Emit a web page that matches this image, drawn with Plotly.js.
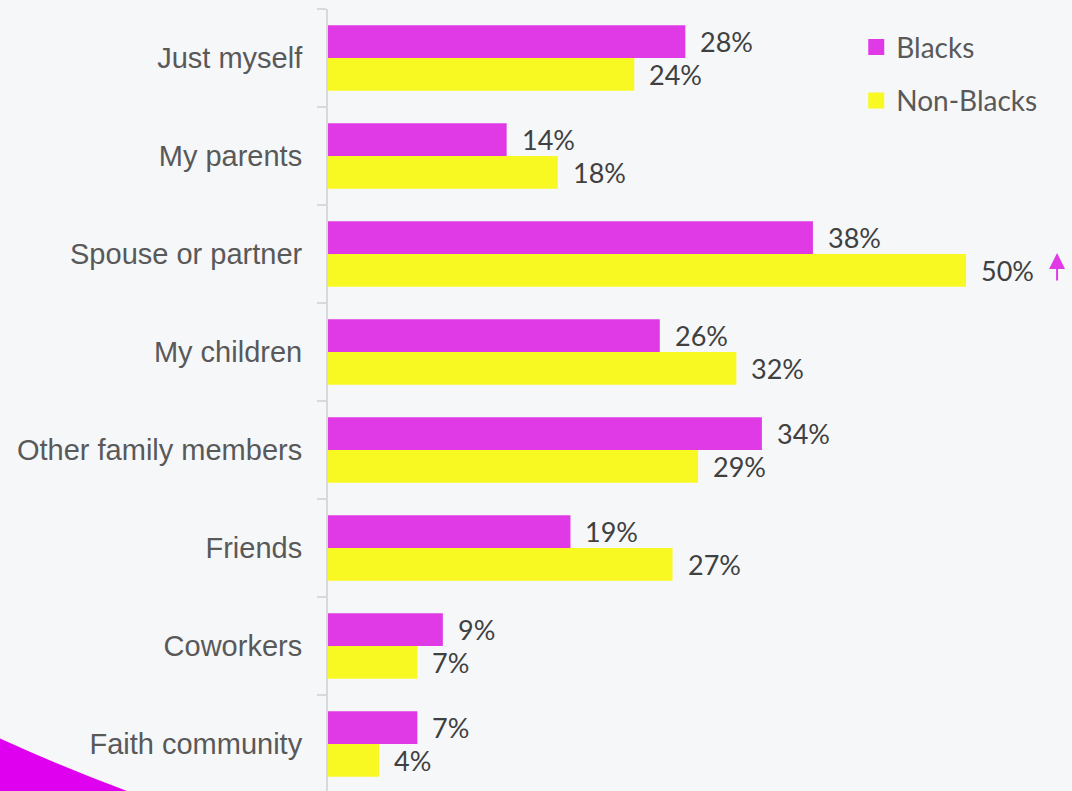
<!DOCTYPE html>
<html>
<head>
<meta charset="utf-8">
<script src="https://cdn.plot.ly/plotly-3.0.1.min.js"></script>
<style>
  html, body { margin: 0; padding: 0; background: #F6F7F9; }
  #chart { width: 1072px; height: 791px; }
</style>
</head>
<body>
<div id="chart"></div>
<script>
// ---- data ----
const categories = ["Just myself", "My parents", "Spouse or partner", "My children",
                    "Other family members", "Friends", "Coworkers", "Faith community"];
const blacks    = [28, 14, 38, 26, 34, 19, 9, 7];
const nonBlacks = [24, 18, 50, 32, 29, 27, 7, 4];
const seriesNames = ["Blacks", "Non-Blacks"];
const highlightCategory = "Spouse or partner";   // significance arrow next to Non-Blacks value

// ---- style ----
const MAGENTA = "#E03AE6";
const YELLOW = "#F8F823";
const BG = "#F6F7F9";
const BARGAP = 0.33;
const seriesColors = [MAGENTA, YELLOW];
const seriesValues = [blacks, nonBlacks];

const traces = [];
seriesValues.forEach((vals, s) => {
  traces.push({ type: "bar", orientation: "h", name: seriesNames[s], y: categories, x: vals,
    marker: { color: seriesColors[s] }, showlegend: false, hoverinfo: "skip" });
});
// legend entries (square swatches)
seriesNames.forEach((nm, s) => {
  traces.push({ type: "scatter", mode: "markers", name: nm, x: [null], y: [null],
    marker: { symbol: "square", size: 18, color: seriesColors[s] },
    legendgroup: "g" + s, showlegend: true, hoverinfo: "skip" });
});

const off = (1 - BARGAP) / 4;
const annotations = [];
seriesValues.forEach((vals, s) => {
  vals.forEach((v, i) => {
    annotations.push({
      x: v, y: i + (s === 0 ? -off : off), xref: "x", yref: "y",
      text: v + "%", showarrow: false, xanchor: "left", yanchor: "middle",
      xshift: 13, font: { family: "Lato, Open Sans, sans-serif", size: 27, color: "#404040" }
    });
  });
});
const hi = categories.indexOf(highlightCategory);
annotations.push({
  x: nonBlacks[hi], y: hi, xref: "x", yref: "y", text: "", showarrow: true,
  ax: 0, ay: 29, xshift: 91, yshift: 1, arrowhead: 2, arrowsize: 1.6, arrowwidth: 2,
  arrowcolor: MAGENTA, standoff: 0
});

const layout = {
  width: 1072, height: 791,
  paper_bgcolor: BG, plot_bgcolor: BG,
  margin: { l: 328, r: 0, t: 9, b: 0, pad: 0 },
  barmode: "group", bargap: BARGAP, bargroupgap: 0,
  showlegend: true,
  legend: {
    x: 0.710, y: 0.983, xanchor: "left", yanchor: "top",
    bgcolor: "rgba(0,0,0,0)", borderwidth: 0,
    font: { family: "Lato, Open Sans, sans-serif", size: 28, color: "#595959" },
    traceorder: "grouped", tracegroupgap: 14
  },
  xaxis: { range: [0, 58.3], visible: false, showgrid: false, zeroline: false, fixedrange: true },
  yaxis: {
    type: "category", categoryorder: "array", categoryarray: categories,
    range: [7.48, -0.5], automargin: false,
    showline: true, linecolor: "#D9D9D9", linewidth: 2,
    ticks: "outside", tickson: "boundaries", ticklen: 9, tickwidth: 2, tickcolor: "#D9D9D9",
    ticklabelstandoff: 18, showgrid: false, zeroline: false,
    tickfont: { family: "Liberation Sans, Arial, sans-serif", size: 29, color: "#595959" }
  },
  shapes: [{
    type: "path", xref: "paper", yref: "paper", layer: "below",
    path: "M -0.4425,0.0678 Q -0.3602,0.032 -0.2702,0 L -0.4425,0 Z",
    fillcolor: "#E000F0", line: { width: 0 }
  }],
  annotations: annotations
};

Plotly.newPlot("chart", traces, layout, { staticPlot: true, displayModeBar: false });
</script>
</body>
</html>
